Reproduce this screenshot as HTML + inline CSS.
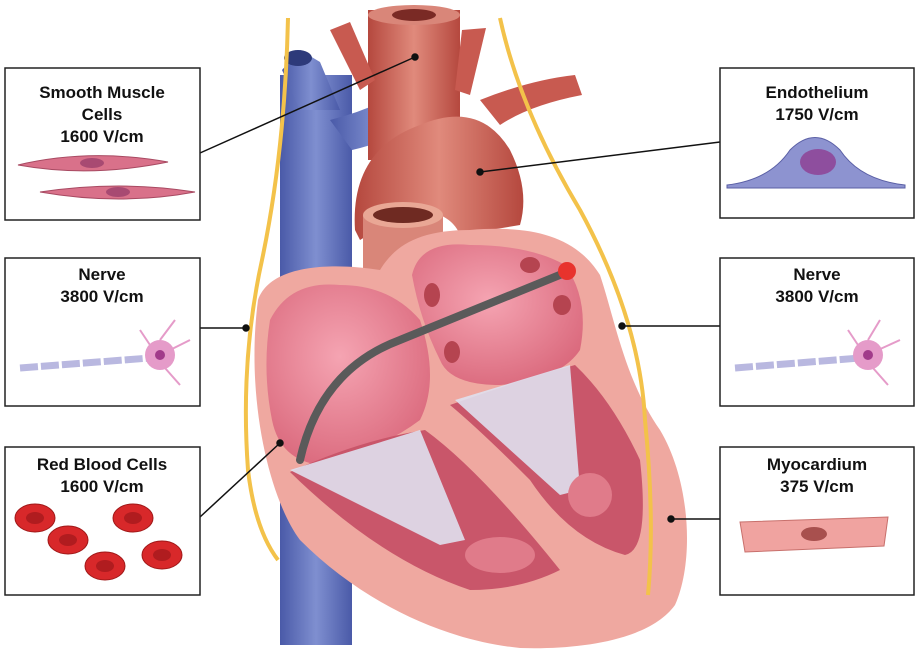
<!DOCTYPE html>
<html><head><meta charset="utf-8"><style>
body{margin:0;background:#fff;width:918px;height:650px;overflow:hidden;font-family:"Liberation Sans",sans-serif}
</style></head><body>
<svg width="918" height="650" viewBox="0 0 918 650" xmlns="http://www.w3.org/2000/svg">
<defs>
<linearGradient id="vc" x1="0" x2="1"><stop offset="0" stop-color="#4a5aa8"/><stop offset=".5" stop-color="#7f8fd0"/><stop offset="1" stop-color="#4a5aa8"/></linearGradient>
<linearGradient id="ao" x1="0" x2="1"><stop offset="0" stop-color="#b5483e"/><stop offset=".5" stop-color="#e08a7c"/><stop offset="1" stop-color="#b5483e"/></linearGradient>
<radialGradient id="ch" cx=".45" cy=".4" r=".7"><stop offset="0" stop-color="#f5a4b2"/><stop offset="1" stop-color="#d86478"/></radialGradient>
</defs>
<!-- vena cava -->
<path d="M280,75 L352,75 L352,645 L280,645 Z" fill="url(#vc)"/>
<path d="M282,70 L300,50 L320,62 L340,110 L300,110 Z" fill="url(#vc)"/>
<path d="M330,120 Q370,110 400,92 L425,105 Q400,140 352,150 Z" fill="url(#vc)"/>
<ellipse cx="298" cy="58" rx="14" ry="8" fill="#2d3a7a"/>
<ellipse cx="413" cy="97" rx="12" ry="9" fill="#2d3a7a"/>
<!-- aorta trunk + branches -->
<rect x="368" y="10" width="92" height="150" fill="url(#ao)"/>
<ellipse cx="414" cy="15" rx="46" ry="10" fill="#d98679"/>
<ellipse cx="414" cy="15" rx="22" ry="6" fill="#7a2a25"/>
<path d="M330,30 L350,22 L375,80 L360,90 Z" fill="#c85a50"/>
<path d="M462,30 L486,28 L470,95 L455,90 Z" fill="#c85a50"/>
<path d="M480,100 Q530,80 575,75 L582,95 Q530,105 500,125 Z" fill="#c85a50"/>
<!-- aortic arch -->
<path d="M355,230 Q350,150 420,125 Q480,100 510,150 Q530,190 520,225 L460,235 Q450,210 410,210 L360,240 Z" fill="url(#ao)"/>
<!-- pulmonary trunk -->
<rect x="363" y="215" width="80" height="60" fill="#d98679"/>
<ellipse cx="403" cy="215" rx="40" ry="13" fill="#e9a795"/>
<ellipse cx="403" cy="215" rx="30" ry="8" fill="#6f2a22"/>
<!-- heart outer -->
<path d="M258,300 C270,265 330,262 380,270 C395,245 420,230 470,230 C530,225 575,235 600,275 C615,320 625,380 660,430 C690,480 695,560 675,605 C650,640 580,650 520,648 C440,640 360,600 300,540 C270,500 245,400 258,300 Z" fill="#efa8a0"/>
<!-- chambers -->
<path d="M270,320 Q290,280 340,285 Q390,285 420,320 Q440,380 420,420 Q380,450 320,465 Q280,460 272,420 Q262,370 270,320 Z" fill="url(#ch)"/>
<path d="M412,275 Q420,240 470,245 Q530,245 565,265 Q590,300 580,350 Q560,380 500,385 Q450,385 440,360 Q420,320 412,275 Z" fill="url(#ch)"/>
<path d="M290,472 Q360,440 425,430 Q480,470 560,570 Q520,590 470,590 Q380,560 290,472 Z" fill="#c9566a"/>
<path d="M450,405 Q520,380 575,365 Q612,400 640,460 Q650,550 625,555 Q570,540 530,480 Q480,430 450,405 Z" fill="#c9566a"/>
<!-- chordae -->
<path d="M290,470 L420,430 L465,540 L440,545 Z" fill="#dfe0ee" opacity=".9"/>
<path d="M455,400 L570,365 L580,490 L560,495 Z" fill="#dfe0ee" opacity=".9"/>
<ellipse cx="500" cy="555" rx="35" ry="18" fill="#e07b8a"/>
<ellipse cx="590" cy="495" rx="22" ry="22" fill="#e07b8a"/>
<!-- pulmonary vein holes -->
<ellipse cx="432" cy="295" rx="8" ry="12" fill="#b54450"/>
<ellipse cx="530" cy="265" rx="10" ry="8" fill="#b54450"/>
<ellipse cx="562" cy="305" rx="9" ry="10" fill="#b54450"/>
<ellipse cx="452" cy="352" rx="8" ry="11" fill="#b54450"/>
<!-- catheter -->
<path d="M567,272 L400,340 Q320,370 300,460" fill="none" stroke="#5a5a5a" stroke-width="8" stroke-linecap="round"/>
<circle cx="567" cy="271" r="9" fill="#e8332d"/>
<!-- yellow nerves -->
<path d="M288,18 Q285,150 262,260 Q240,360 248,470 Q255,530 278,560" fill="none" stroke="#f3c24a" stroke-width="4"/>
<path d="M500,18 Q520,110 580,210 Q640,320 645,420 Q655,520 648,595" fill="none" stroke="#f3c24a" stroke-width="4"/>
<!-- connectors -->
<g stroke="#111" stroke-width="1.5" fill="#111">
<line x1="200" y1="153" x2="415" y2="57"/><circle cx="415" cy="57" r="3"/>
<line x1="720" y1="142" x2="480" y2="172"/><circle cx="480" cy="172" r="3"/>
<line x1="200" y1="328" x2="246" y2="328"/><circle cx="246" cy="328" r="3"/>
<line x1="720" y1="326" x2="622" y2="326"/><circle cx="622" cy="326" r="3"/>
<line x1="200" y1="517" x2="280" y2="443"/><circle cx="280" cy="443" r="3"/>
<line x1="720" y1="519" x2="671" y2="519"/><circle cx="671" cy="519" r="3"/>
</g>
<!-- boxes -->
<g fill="#fff" stroke="#222" stroke-width="1.5">
<rect x="5" y="68" width="195" height="152"/>
<rect x="5" y="258" width="195" height="148"/>
<rect x="5" y="447" width="195" height="148"/>
<rect x="720" y="68" width="194" height="150"/>
<rect x="720" y="258" width="194" height="148"/>
<rect x="720" y="447" width="194" height="148"/>
</g>
<g font-weight="bold" font-size="17" fill="#111" text-anchor="middle">
<text x="102" y="98">Smooth Muscle</text><text x="102" y="120">Cells</text><text x="102" y="142">1600 V/cm</text>
<text x="102" y="280">Nerve</text><text x="102" y="302">3800 V/cm</text>
<text x="102" y="470">Red Blood Cells</text><text x="102" y="492">1600 V/cm</text>
<text x="817" y="98">Endothelium</text><text x="817" y="120">1750 V/cm</text>
<text x="817" y="280">Nerve</text><text x="817" y="302">3800 V/cm</text>
<text x="817" y="470">Myocardium</text><text x="817" y="492">375 V/cm</text>
</g>
<!-- smooth muscle cells -->
<path d="M18,165 Q90,148 168,162 Q90,178 18,165 Z" fill="#d9718a" stroke="#a84a62"/>
<ellipse cx="92" cy="163" rx="12" ry="5" fill="#a84a72"/>
<path d="M40,192 Q120,180 195,192 Q120,206 40,192 Z" fill="#d9718a" stroke="#a84a62"/>
<ellipse cx="118" cy="192" rx="12" ry="5" fill="#a84a72"/>
<!-- endothelium -->
<path d="M727,185 Q770,180 790,150 Q815,125 840,150 Q860,180 905,185 L905,188 L727,188 Z" fill="#8d93d0" stroke="#5a5fa5"/>
<ellipse cx="818" cy="162" rx="18" ry="13" fill="#8e4e9e"/>
<!-- nerves -->
<g>
<path d="M20,368 L150,358" stroke="#b9b8e0" stroke-width="7" stroke-dasharray="18,3"/>
<circle cx="160" cy="355" r="15" fill="#e59bc9"/><circle cx="160" cy="355" r="5" fill="#a13b8a"/>
<path d="M160,340 L175,320 M170,350 L190,340 M165,368 L180,385 M150,345 L140,330" stroke="#e59bc9" stroke-width="2"/>
<path d="M735,368 L860,358" stroke="#b9b8e0" stroke-width="7" stroke-dasharray="18,3"/>
<circle cx="868" cy="355" r="15" fill="#e59bc9"/><circle cx="868" cy="355" r="5" fill="#a13b8a"/>
<path d="M868,340 L880,320 M878,350 L900,340 M873,368 L888,385 M858,345 L848,330" stroke="#e59bc9" stroke-width="2"/>
</g>
<!-- RBCs -->
<g fill="#d8282a" stroke="#a01818">
<ellipse cx="35" cy="518" rx="20" ry="14"/><ellipse cx="133" cy="518" rx="20" ry="14"/>
<ellipse cx="68" cy="540" rx="20" ry="14"/><ellipse cx="105" cy="566" rx="20" ry="14"/><ellipse cx="162" cy="555" rx="20" ry="14"/>
</g>
<g fill="#b01c1f"><ellipse cx="35" cy="518" rx="9" ry="6"/><ellipse cx="133" cy="518" rx="9" ry="6"/><ellipse cx="68" cy="540" rx="9" ry="6"/><ellipse cx="105" cy="566" rx="9" ry="6"/><ellipse cx="162" cy="555" rx="9" ry="6"/></g>
<!-- myocardium -->
<path d="M740,522 L888,517 L884,546 L745,552 Z" fill="#f0a3a0" stroke="#c8706c"/>
<ellipse cx="814" cy="534" rx="13" ry="7" fill="#a8504e"/>
</svg>
</body></html>
